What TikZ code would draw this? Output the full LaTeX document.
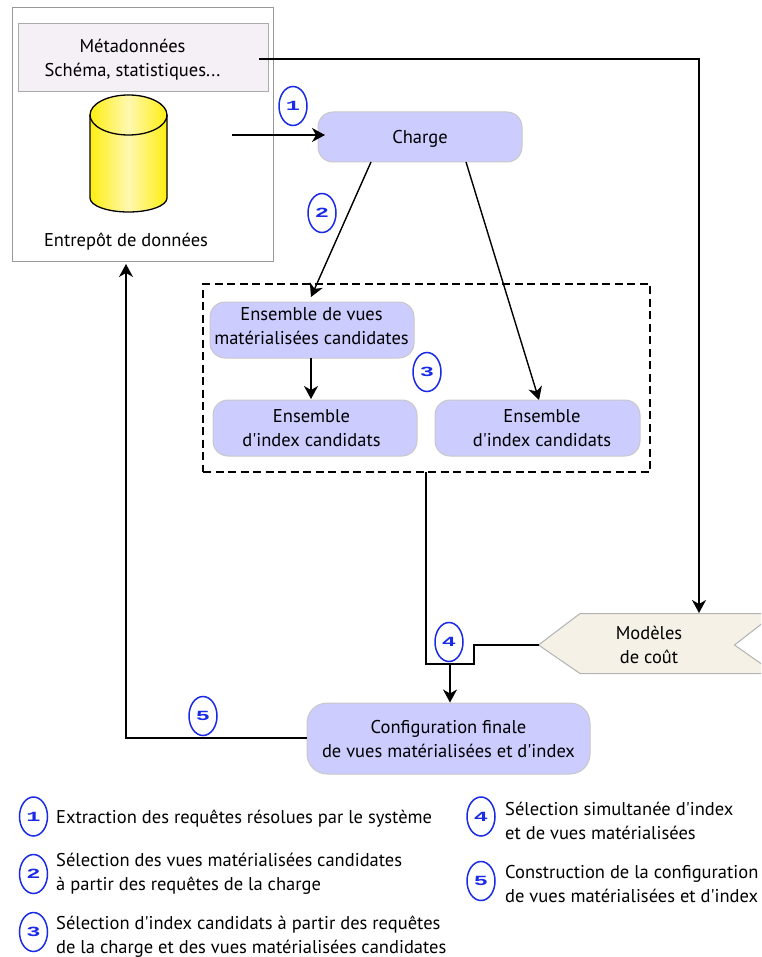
\documentclass[tikz,border=0pt]{standalone}
\usepackage{fontspec}
\setmainfont{PT Sans}[Ligatures=TeXOff]
\newfontfamily\numfont{Liberation Mono}[BoldFont={Liberation Mono Bold}]
\usetikzlibrary{arrows.meta,shapes.geometric,calc}
\definecolor{boxblue}{HTML}{CCCCFF}
\definecolor{boxedge}{HTML}{C8C8C8}
\definecolor{numblue}{HTML}{1A2BE8}
\definecolor{metafill}{HTML}{F5F0F6}
\definecolor{costfill}{HTML}{F5F1E6}
\definecolor{cylyellow}{HTML}{FFEE11}
\definecolor{cyllight}{HTML}{FFF8B0}
\tikzset{
  x=1pt,y=-1pt,
  txt/.style={font=\fontsize{18.5}{24}\selectfont,text=black,align=center,inner sep=0pt},
  legend/.style={txt,align=left,anchor=west},
  softbox/.style={draw=boxedge,line width=1pt,fill=boxblue,rounded corners=15pt},
  conn/.style={draw=black,line width=1.4pt},
  arr/.style={conn,-{Stealth[length=13pt,width=14pt,inset=4pt]}},
  numc/.style={ellipse,draw=numblue,line width=1.5pt,fill=white,minimum width=28pt,minimum height=39pt,inner sep=0pt,text=numblue,
    font=\numfont\bfseries\fontsize{17.5}{17.5}\selectfont},
}
\newcommand{\wnum}[1]{\scalebox{1.35}[0.8]{#1}}
\begin{document}
\begin{tikzpicture}
\useasboundingbox (0,0) rectangle (761,957);
\clip (0,0) rectangle (761,957);
% warehouse
\node[draw=black!40,line width=1pt,fill=white,minimum width=261pt,minimum height=254pt,inner sep=0pt] (dw) at (142.5,135) {};
\node[draw=black!33,line width=1pt,fill=metafill,minimum width=250pt,minimum height=68pt,inner sep=0pt] (meta) at (143,58) {};
\node[txt] (metat) at (132.5,60) {Métadonnées\\Schéma, statistiques...};
\coordinate (metaout) at (259,59);
% cylinder
\path[left color=cylyellow,right color=cylyellow,middle color=cyllight]
  (90,115) arc[start angle=180,end angle=0,x radius=38.5,y radius=-20] -- (167,198) arc[start angle=0,end angle=-180,x radius=38.5,y radius=-14] -- cycle;
\draw[line width=1.3pt] (90,115) -- (90,198) arc[start angle=0,end angle=-180,x radius=-38.5,y radius=-14] -- (167,115);
\draw[line width=1.3pt] (128.5,115) ellipse[x radius=38.5,y radius=20];
\node[txt] (dwt) at (126,241.5) {Entrepôt de données};
\coordinate (dwout) at (232,135);
\coordinate (dwin) at (126,264);
% main boxes
\node[softbox,minimum width=204pt,minimum height=50pt,inner sep=0pt] (charge) at (420,137) {};
\node[txt] (charget) at (420,138.5) {Charge};
\node[draw=black,line width=1.2pt,dash pattern=on 8pt off 4.5pt,minimum width=447pt,minimum height=188pt,inner sep=0pt] (cand) at (426.5,378) {};
\node[softbox,minimum width=204pt,minimum height=56pt,inner sep=0pt] (vues) at (312,330) {};
\node[txt] (vuest) at (311.5,326.5) {Ensemble de vues\\matérialisées candidates};
\node[softbox,minimum width=204pt,minimum height=56pt,inner sep=0pt] (idxa) at (315,428) {};
\node[txt] (idxat) at (311.5,428) {Ensemble\\d'index candidats};
\node[softbox,minimum width=205pt,minimum height=56pt,inner sep=0pt] (idxb) at (537.5,428) {};
\node[txt] (idxbt) at (542,428) {Ensemble\\d'index candidats};
\node[softbox,rounded corners=20pt,minimum width=283pt,minimum height=71pt,inner sep=0pt] (final) at (448.5,738.5) {};
\node[txt] (finalt) at (448.5,739.5) {Configuration finale\\de vues matérialisées et d'index};
% cost
\draw[draw=black!30,line width=1pt,fill=costfill] (538.5,645) -- (580,613.5) -- (775,613.5) -- (734.5,645) -- (775,673.5) -- (580,673.5) -- cycle;
\coordinate (costtip) at (538.5,645);
\coordinate (costtop) at (699,613);
\node[txt] (costt) at (649,645) {Modèles\\de coût};
% connectors
\coordinate (chargein) at (325,135);
\draw[arr] (dwout) -- (chargein);
\draw[arr] (metaout) -- (699,59) -- (costtop);
\coordinate (ca) at (371,162);
\coordinate (cb) at (466,162);
\coordinate (va) at (311,297);
\coordinate (ib) at (539,400);
\draw[arr] (ca) -- (va);
\draw[arr] (cb) -- (ib);
\draw[arr] (311,358) -- (311,399);
\coordinate (cout) at (426,472);
\coordinate (join) at (450,664);
\draw[conn] (cout) -- (426,664) -- (474,664) -- (474,645) -- (costtip);
\draw[arr] (join) -- (450,702.5);
\draw[arr] (final.west |- 0,738) -- (126,738) -- (dwin);
% numbers
\node[numc] (n1) at (293,106) {\wnum{1}};
\node[numc] (n2) at (322,213) {\wnum{2}};
\node[numc] (n3) at (427,372) {\wnum{3}};
\node[numc] (n4) at (449,642) {\wnum{4}};
\node[numc] (n5) at (203,716) {\wnum{5}};
% legend
\node[numc] (l1) at (33.5,816.5) {\wnum{1}};
\node[numc] (l2) at (33.5,874) {\wnum{2}};
\node[numc] (l3) at (33.5,932) {\wnum{3}};
\node[numc] (l4) at (481,816.5) {\wnum{4}};
\node[numc] (l5) at (481,881) {\wnum{5}};
\node[legend] (t1) at (56,818.5) {Extraction des requêtes résolues par le système};
\node[legend] (t2) at (56,873.5) {Sélection des vues matérialisées candidates\\à partir des requêtes de la charge};
\node[legend] (t3) at (56,937) {Sélection d'index candidats à partir des requêtes\\de la charge et des vues matérialisées candidates};
\node[legend] (t4) at (505,820.5) {Sélection simultanée d'index\\et de vues matérialisées};
\node[legend] (t5) at (505,884.5) {Construction de la configuration\\de vues matérialisées et d'index};
\end{tikzpicture}
\end{document}
